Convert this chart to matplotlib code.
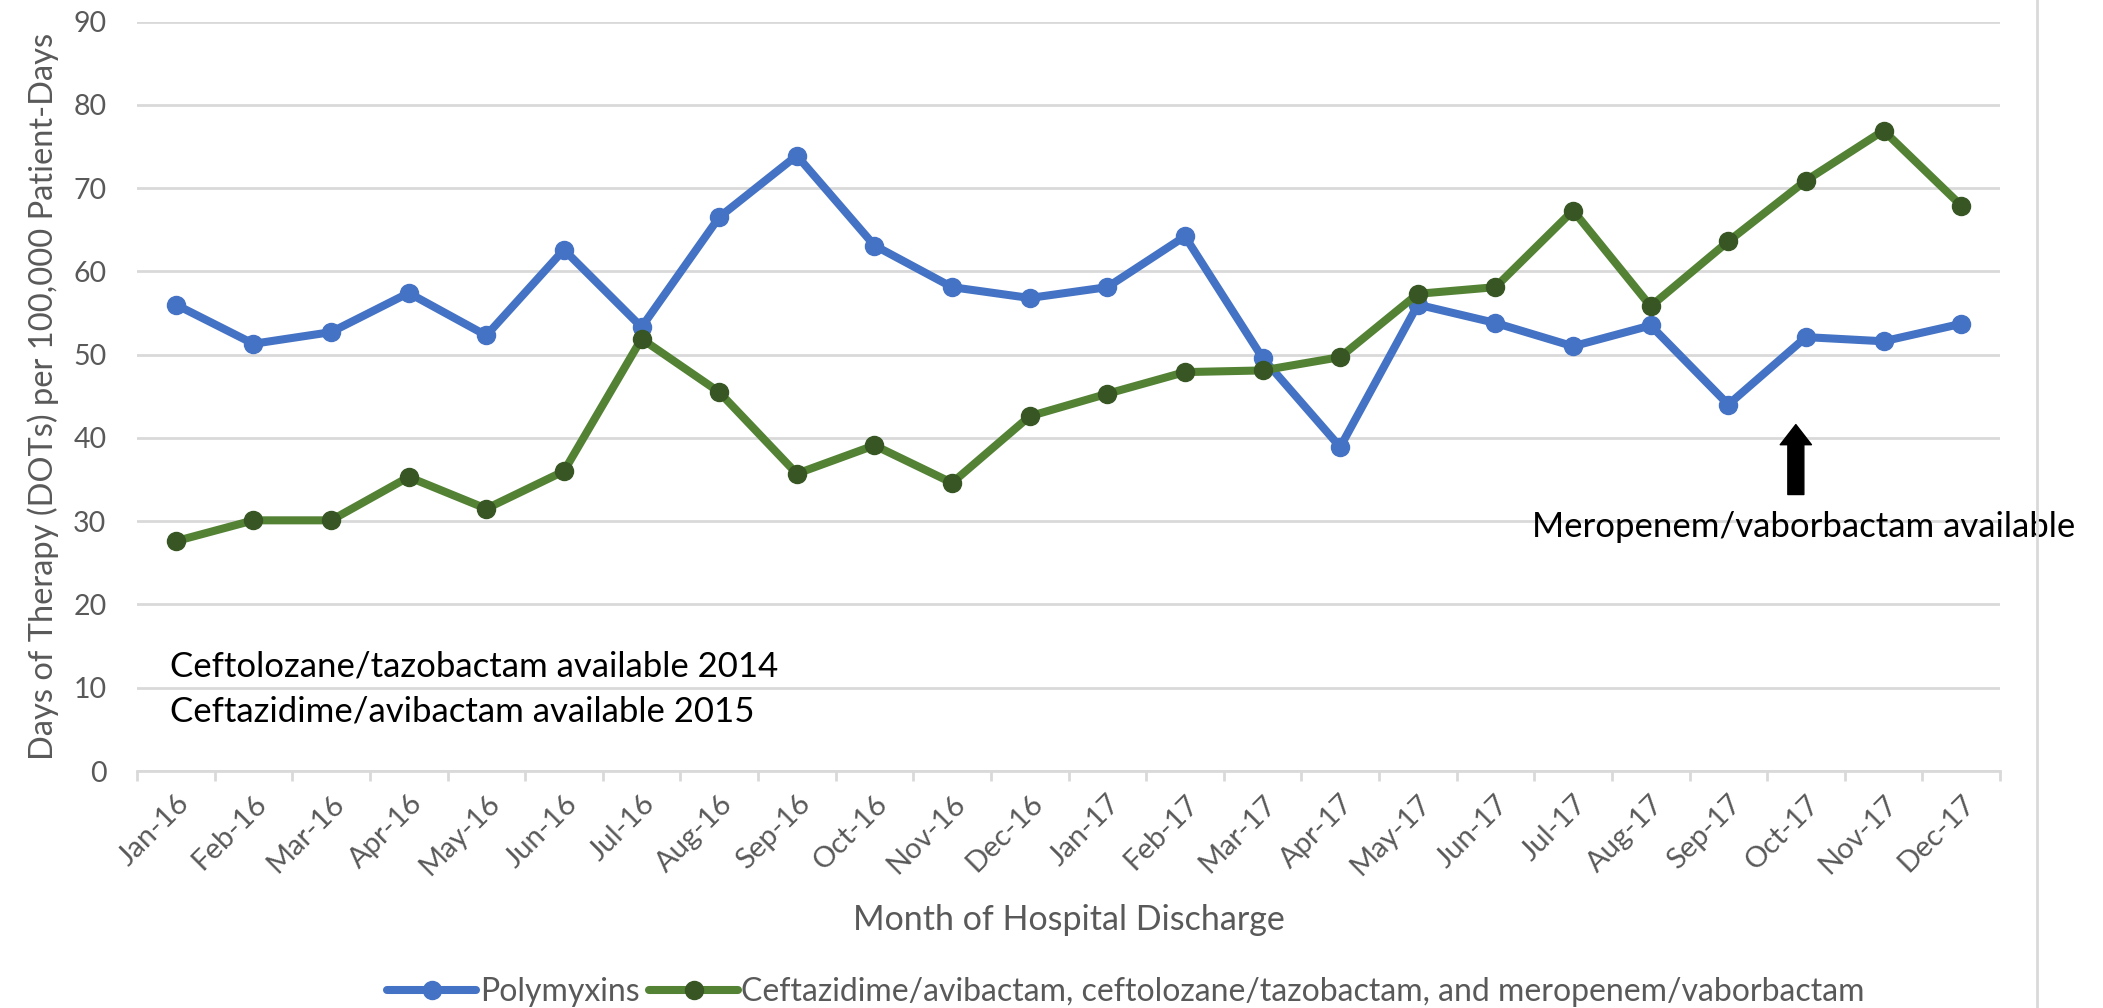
import matplotlib
matplotlib.use("Agg")
import matplotlib.pyplot as plt
from matplotlib.lines import Line2D

months = ["Jan-16", "Feb-16", "Mar-16", "Apr-16", "May-16", "Jun-16", "Jul-16", "Aug-16",
          "Sep-16", "Oct-16", "Nov-16", "Dec-16", "Jan-17", "Feb-17", "Mar-17", "Apr-17",
          "May-17", "Jun-17", "Jul-17", "Aug-17", "Sep-17", "Oct-17", "Nov-17", "Dec-17"]
polymyxins = [56.0, 51.3, 52.7, 57.4, 52.3, 62.6, 53.3, 66.5, 73.9, 63.1, 58.1, 56.8,
              58.1, 64.2, 49.6, 38.9, 56.0, 53.8, 51.0, 53.5, 44.0, 52.1, 51.6, 53.7]
new_agents = [27.6, 30.1, 30.1, 35.3, 31.5, 36.0, 51.9, 45.5, 35.7, 39.1, 34.6, 42.6,
              45.3, 47.9, 48.1, 49.7, 57.3, 58.1, 67.3, 55.8, 63.6, 70.9, 76.9, 67.9]
series_names = ["Polymyxins",
                "Ceftazidime/avibactam, ceftolozane/tazobactam, and meropenem/vaborbactam"]
yticks = [0, 10, 20, 30, 40, 50, 60, 70, 80, 90]

FONT = ["Lato", "DejaVu Sans"]
plt.rcParams["font.family"] = FONT
GRAY = "#595959"
GRID = "#d9d9d9"
BLUE = "#4472C4"
GREEN = "#548235"
DKGREEN = "#375623"

fig = plt.figure(figsize=(21.03, 10.08), dpi=100)
ax = fig.add_axes([137/2103, 237/1008, 1863/2103, 749.5/1008])

x = list(range(len(months)))
ax.plot(x, polymyxins, color=BLUE, lw=5.8, marker="o", markersize=13,
        markerfacecolor=BLUE, markeredgecolor=BLUE, label=series_names[0],
        solid_capstyle="round", zorder=3)
ax.plot(x, new_agents, color=GREEN, lw=5.8, marker="o", markersize=13,
        markerfacecolor=DKGREEN, markeredgecolor=DKGREEN, label=series_names[1],
        solid_capstyle="round", zorder=4)

ax.set_xlim(-0.5, len(months) - 0.5)
ax.set_ylim(0, 90)
ax.set_yticks(yticks)
ax.set_yticklabels([str(v) for v in yticks], fontsize=20.5, color=GRAY)
ax.set_xticks(x)
ax.set_xticklabels(months, fontsize=21, color=GRAY, rotation=45, ha="right",
                   va="top", rotation_mode="anchor")
ax.set_xticks([i - 0.5 for i in range(len(months) + 1)], minor=True)
ax.tick_params(axis="x", which="major", length=0, pad=14)
ax.tick_params(axis="x", which="minor", length=7, width=2, color=GRID)
ax.tick_params(axis="y", length=0, pad=22)

ax.grid(axis="y", color=GRID, lw=2)
ax.set_axisbelow(True)
for s in ["top", "right", "left"]:
    ax.spines[s].set_visible(False)
ax.spines["bottom"].set_color(GRID)
ax.spines["bottom"].set_linewidth(2)

ax.set_ylabel("Days of Therapy (DOTs) per 100,000 Patient-Days", fontsize=23.5,
              color=GRAY, labelpad=10)
ax.set_xlabel("Month of Hospital Discharge", fontsize=24.5, color=GRAY, labelpad=17)

ax.text(0.0177, 12.6, "Ceftolozane/tazobactam available 2014", fontsize=25,
        color="black", va="center", ha="left", transform=ax.get_yaxis_transform())
ax.text(0.0177, 7.2, "Ceftazidime/avibactam available 2015", fontsize=25,
        color="black", va="center", ha="left", transform=ax.get_yaxis_transform())
ax.text(0.749, 29.3, "Meropenem/vaborbactam available", fontsize=25,
        color="black", va="center", ha="left", transform=ax.get_yaxis_transform(),
        clip_on=False)
ax.annotate("", xy=(20.87, 41.6), xytext=(20.87, 33.2),
            arrowprops=dict(arrowstyle="simple,head_length=1.45,head_width=2.25,tail_width=1.15",
                            color="black", shrinkA=0, shrinkB=0, mutation_scale=10))

leg = fig.legend(loc="center", bbox_to_anchor=(1126/2103, 16/1008), ncol=2,
                 frameon=False, fontsize=23, handlelength=2.8, columnspacing=0.3,
                 handletextpad=0.1, borderaxespad=0)
for t in leg.get_texts():
    t.set_color(GRAY)

fig.add_artist(Line2D([2037/2103, 2037/2103], [0, 1], color=GRID, lw=2,
                      transform=fig.transFigure))

fig.savefig("out.png", dpi=100, facecolor="white")
